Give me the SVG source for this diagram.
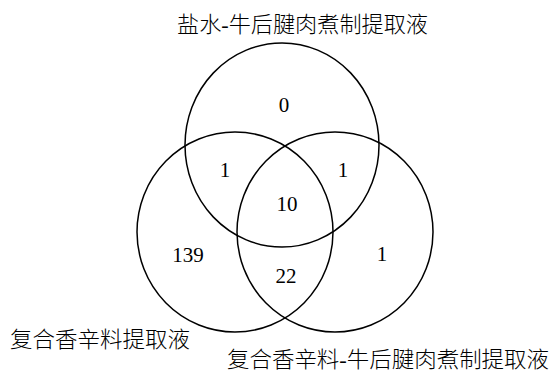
<svg xmlns="http://www.w3.org/2000/svg" width="551" height="372" viewBox="0 0 551 372">
<style>
.c{fill:none;stroke:#000;stroke-width:1.5}
.n{font-family:'Liberation Serif','Noto Sans CJK SC',serif;font-size:21px;text-anchor:middle;fill:#000}
.l{font-family:'Liberation Serif','Noto Sans CJK SC',serif;font-size:22px;font-weight:300;fill:#000}
</style>
<rect width="551" height="372" fill="#fff"/>
<g id="set-top">
<ellipse class="c" cx="282" cy="145" rx="97" ry="102"/>
<text class="l" x="177" y="32" textLength="251" lengthAdjust="spacingAndGlyphs">盐水-牛后腱肉煮制提取液</text>
</g>
<g id="set-left">
<ellipse class="c" cx="235" cy="232" rx="98" ry="100"/>
<text class="l" x="10" y="347" textLength="180" lengthAdjust="spacingAndGlyphs">复合香辛料提取液</text>
</g>
<g id="set-right">
<ellipse class="c" cx="335" cy="232" rx="98" ry="100"/>
<text class="l" x="227" y="367" textLength="322" lengthAdjust="spacingAndGlyphs">复合香辛料-牛后腱肉煮制提取液</text>
</g>
<g id="counts">
<text class="n" x="284" y="112">0</text>
<text class="n" x="225" y="177">1</text>
<text class="n" x="343" y="177">1</text>
<text class="n" x="287" y="211">10</text>
<text class="n" x="188" y="262">139</text>
<text class="n" x="286" y="283">22</text>
<text class="n" x="382" y="261">1</text>
</g>
<g id="connectors"/>
</svg>
